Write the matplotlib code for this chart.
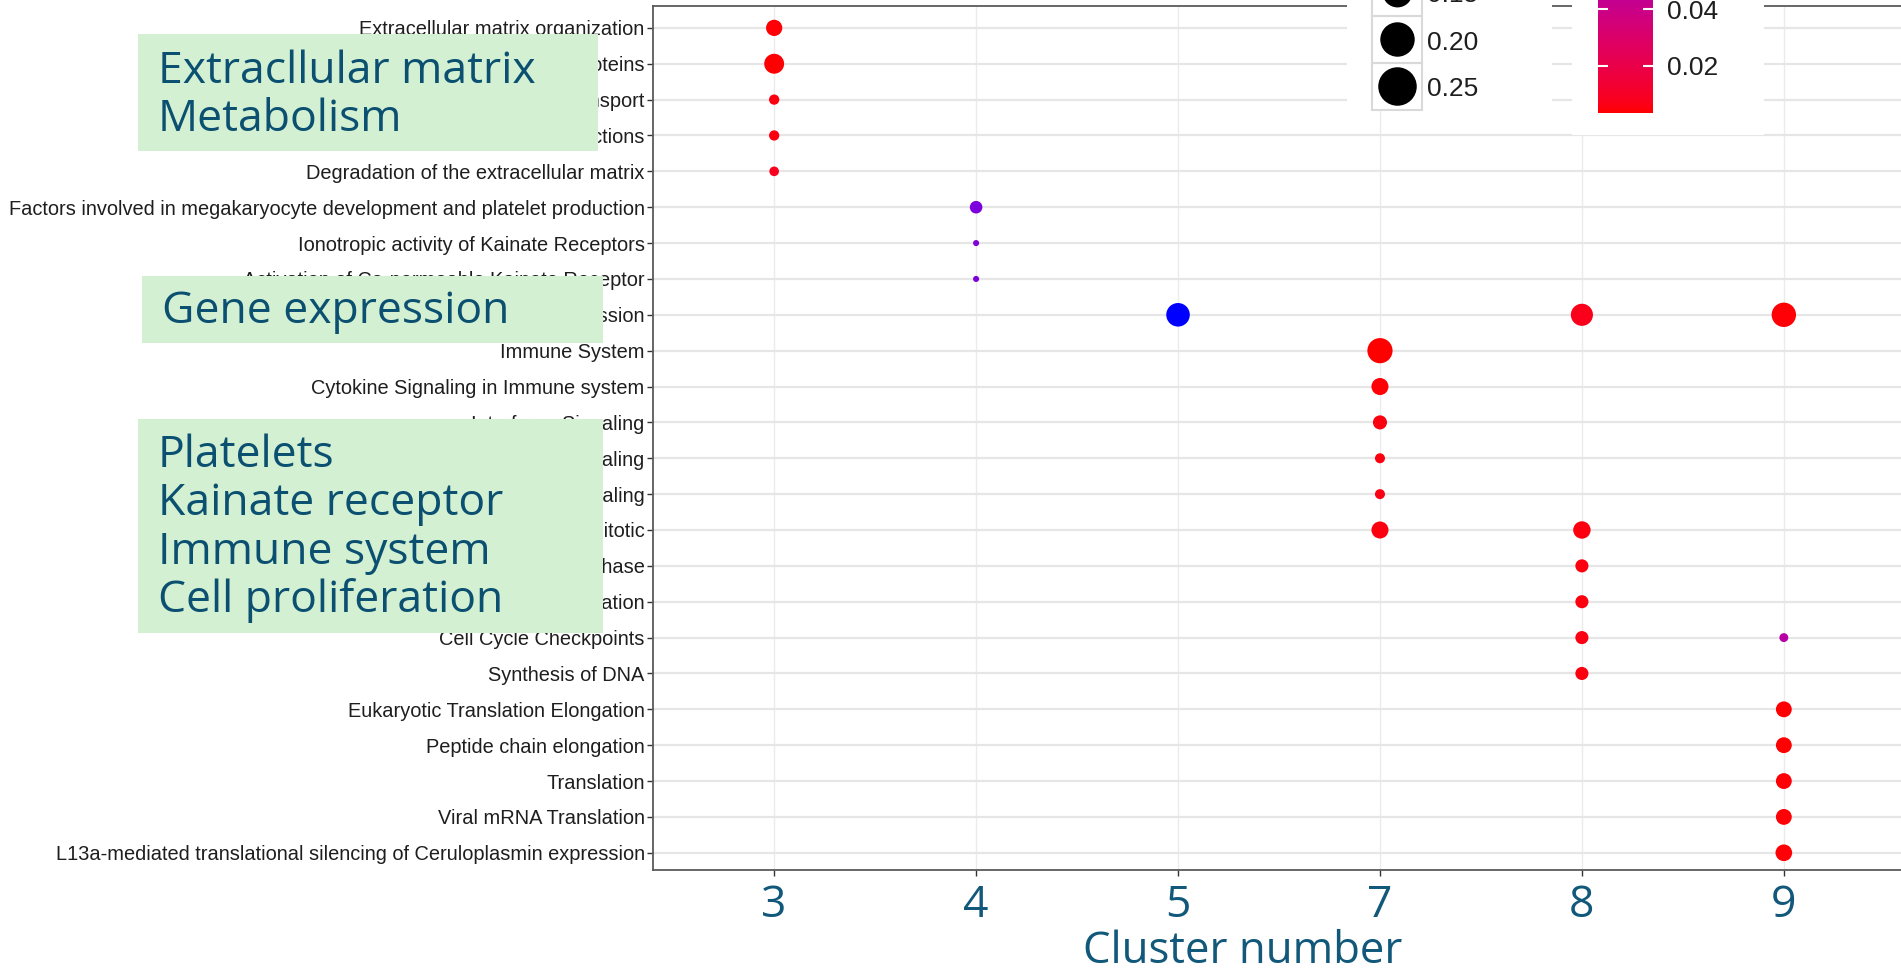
import numpy as np
import matplotlib
matplotlib.use("Agg")
import matplotlib.pyplot as plt
from matplotlib.colors import ListedColormap, Normalize
from matplotlib.patches import Rectangle

W, H = 1901, 971

# enriched pathways, top to bottom
pathways = [
    "Extracellular matrix organization",
    "Metabolism of proteins",
    "Vesicle-mediated transport",
    "Integrin cell surface interactions",
    "Degradation of the extracellular matrix",
    "Factors involved in megakaryocyte development and platelet production",
    "Ionotropic activity of Kainate Receptors",
    "Activation of Ca-permeable Kainate Receptor",
    "Gene Expression",
    "Immune System",
    "Cytokine Signaling in Immune system",
    "Interferon Signaling",
    "Interferon alpha/beta signaling",
    "Interferon gamma signaling",
    "Cell Cycle, Mitotic",
    "M Phase",
    "DNA Replication",
    "Cell Cycle Checkpoints",
    "Synthesis of DNA",
    "Eukaryotic Translation Elongation",
    "Peptide chain elongation",
    "Translation",
    "Viral mRNA Translation",
    "L13a-mediated translational silencing of Ceruloplasmin expression",
]
clusters = ["3", "4", "5", "7", "8", "9"]

# one entry per dot: row in `pathways`, cluster, gene ratio, adjusted p-value
dot_row = [0, 1, 2, 3, 4,
           5, 6, 7,
           8, 8, 8,
           9, 10, 11, 12, 13, 14,
           14, 15, 16, 17, 18,
           17, 19, 20, 21, 22, 23]
dot_cluster = ["3", "3", "3", "3", "3",
               "4", "4", "4",
               "5", "8", "9",
               "7", "7", "7", "7", "7", "7",
               "8", "8", "8", "8", "8",
               "9", "9", "9", "9", "9", "9"]
dot_ratio = [0.10, 0.15, 0.04, 0.04, 0.035,
             0.06, 0.014, 0.014,
             0.21, 0.185, 0.225,
             0.24, 0.11, 0.075, 0.038, 0.038, 0.11,
             0.115, 0.065, 0.065, 0.065, 0.065,
             0.03, 0.095, 0.095, 0.095, 0.095, 0.105]
dot_pvalue = [0.004, 0.0035, 0.005, 0.005, 0.008,
              0.066, 0.065, 0.066,
              0.077, 0.007, 0.004,
              0.0032, 0.004, 0.005, 0.005, 0.006, 0.005,
              0.005, 0.005, 0.005, 0.006, 0.005,
              0.049, 0.0035, 0.0035, 0.004, 0.004, 0.004]

size_breaks = [0.15, 0.20, 0.25]
color_breaks = [0.02, 0.04]

notes = [
    ["Extracllular matrix", "Metabolism"],
    ["Gene expression"],
    ["Platelets", "Kainate receptor", "Immune system", "Cell proliferation"],
]

TEAL = "#11587a"
NOTE_TEXT = "#0b5070"
NOTE_FILL = "#d4f0d3"
INK = "#1e1e1e"
SLIDE_FONT = "Open Sans"


# red -> blue gradient interpolated in CIE Lab
_M = np.array([[0.4124, 0.3576, 0.1805],
               [0.2126, 0.7152, 0.0722],
               [0.0193, 0.1192, 0.9505]])
_WHITE = np.array([0.95047, 1.0, 1.08883])


def srgb_to_lab(rgb):
    c = np.asarray(rgb, float)
    lin = np.where(c <= 0.04045, c / 12.92, ((c + 0.055) / 1.055) ** 2.4)
    xyz = _M @ lin / _WHITE
    f = np.where(xyz > 0.008856, np.cbrt(xyz), 7.787 * xyz + 16 / 116)
    return np.array([116 * f[1] - 16, 500 * (f[0] - f[1]), 200 * (f[1] - f[2])])


def lab_to_srgb(lab):
    L, a, b = lab
    fy = (L + 16) / 116
    f = np.array([fy + a / 500, fy, fy - b / 200])
    xyz = np.where(f ** 3 > 0.008856, f ** 3, (f - 16 / 116) / 7.787) * _WHITE
    lin = np.clip(np.linalg.inv(_M) @ xyz, 0, 1)
    return np.where(lin <= 0.0031308, 12.92 * lin, 1.055 * lin ** (1 / 2.4) - 0.055)


lab_lo, lab_hi = srgb_to_lab([1, 0, 0]), srgb_to_lab([0, 0, 1])
cmap = ListedColormap([np.clip(lab_to_srgb(lab_lo + t * (lab_hi - lab_lo)), 0, 1)
                       for t in np.linspace(0, 1, 256)])
norm = Normalize(vmin=min(dot_pvalue), vmax=max(dot_pvalue))


def dot_area(ratio, scale=51.4):
    # area proportional to gene ratio; scale is px diameter at ratio 1
    d_px = scale * np.sqrt(np.asarray(ratio))
    return (d_px * 0.72) ** 2


def fig_rect(x0, y0, x1, y1):
    return [x0 / W, 1 - y1 / H, (x1 - x0) / W, (y1 - y0) / H]


fig = plt.figure(figsize=(W / 100, H / 100), dpi=100)

# ── main dot plot ─────────────────────────────
ax = fig.add_axes(fig_rect(653, 6, 1905, 870))
xs = [clusters.index(c) + 1 for c in dot_cluster]
ys = [r + 1 for r in dot_row]
ax.scatter(xs, ys, s=dot_area(dot_ratio), c=dot_pvalue, cmap=cmap, norm=norm,
           linewidths=0, zorder=3)

ax.set_xlim(0.4, 6.6)
ax.set_ylim(24.48, 0.39)
ax.set_xticks(range(1, len(clusters) + 1))
ax.set_xticklabels(clusters, fontsize=32, color=TEAL, family=SLIDE_FONT)
ax.set_yticks(range(1, len(pathways) + 1))
ax.set_yticklabels(pathways, fontsize=14.4, color=INK, family="Liberation Sans")
ax.tick_params(axis="y", length=4, width=1, color="#333333", pad=2)
ax.tick_params(axis="x", length=4, width=1, color="#333333", pad=6)
ax.set_axisbelow(True)
ax.xaxis.grid(True, color="#ebebeb", lw=1.0)
ax.yaxis.grid(True, color="#e6e6e6", lw=1.6)
for side in ["left", "bottom", "top"]:
    ax.spines[side].set_color("#5a5a5a")
    ax.spines[side].set_linewidth(1.3)
ax.spines["right"].set_visible(False)
ax.set_xlabel("Cluster number", fontsize=31.5, color=TEAL, family=SLIDE_FONT)
ax.xaxis.set_label_coords((1243 - 653) / (1905 - 653), -0.069)

# ── size legend ───────────────────────────────
lg = fig.add_axes(fig_rect(1347, 0, 1552, 110))
lg.set_xlim(1347, 1552)
lg.set_ylim(110, 0)
lg.set_facecolor("white")
lg.set_xticks([])
lg.set_yticks([])
for s in lg.spines.values():
    s.set_visible(False)
row_top = [-31, 16, 63]
for v, top in zip(size_breaks, row_top):
    cy = top + 23.5
    lg.add_patch(Rectangle((1372, top), 50, 47, fill=False, ec="#d9d9d9",
                           lw=1.5, clip_on=False))
    lg.scatter([1397], [cy], s=dot_area(v, scale=77), color="black",
               linewidths=0, clip_on=False, zorder=3)
    lg.text(1427, cy + 3, f"{v:.2f}", fontsize=19, color=INK,
            family="Liberation Sans", va="center", ha="left", clip_on=False)

# ── colour bar ────────────────────────────────
cb_box = fig.add_axes(fig_rect(1572, 0, 1764, 135))
cb_box.set_facecolor("white")
cb_box.set_xticks([])
cb_box.set_yticks([])
for s in cb_box.spines.values():
    s.set_visible(False)

px_per_unit = 56.4 / 0.02
bar_bottom = 113
bar_top = bar_bottom - (norm.vmax - norm.vmin) * px_per_unit
cax = fig.add_axes(fig_rect(1598, bar_top, 1653, bar_bottom))
grad = np.linspace(norm.vmin, norm.vmax, 256).reshape(-1, 1)
cax.imshow(grad, cmap=cmap, norm=norm, origin="lower", aspect="auto",
           extent=[0, 1, norm.vmin, norm.vmax])
cax.set_xlim(0, 1)
cax.set_ylim(norm.vmin, norm.vmax)
cax.set_xticks([])
cax.yaxis.tick_right()
cax.set_yticks(color_breaks)
cax.set_yticklabels([f"{b:.2f}" for b in color_breaks], fontsize=19, color=INK,
                    family="Liberation Sans")
cax.tick_params(axis="y", length=0, pad=10)
cax.hlines(color_breaks, 0, 0.19, color="white", lw=1.5)
cax.hlines(color_breaks, 0.81, 1, color="white", lw=1.5)
for s in cax.spines.values():
    s.set_visible(False)

# ── theme notes over the labels ───────────────
note_boxes = [(138, 34, 598, 151), (142, 276, 603, 343), (138, 419, 603, 633)]
note_left = [158, 162, 158]
note_baselines = [[83, 131], [323], [467, 515, 564, 612]]
for lines, (x0, y0, x1, y1), left, bases in zip(notes, note_boxes, note_left, note_baselines):
    fig.patches.append(Rectangle((x0 / W, 1 - y1 / H), (x1 - x0) / W, (y1 - y0) / H,
                                 transform=fig.transFigure, fc=NOTE_FILL, ec="none",
                                 zorder=5))
    for line, b in zip(lines, bases):
        fig.text(left / W, 1 - b / H, line, fontsize=32, color=NOTE_TEXT,
                 family=SLIDE_FONT, va="baseline", ha="left", zorder=6)

fig.savefig("out.png", dpi=100)
